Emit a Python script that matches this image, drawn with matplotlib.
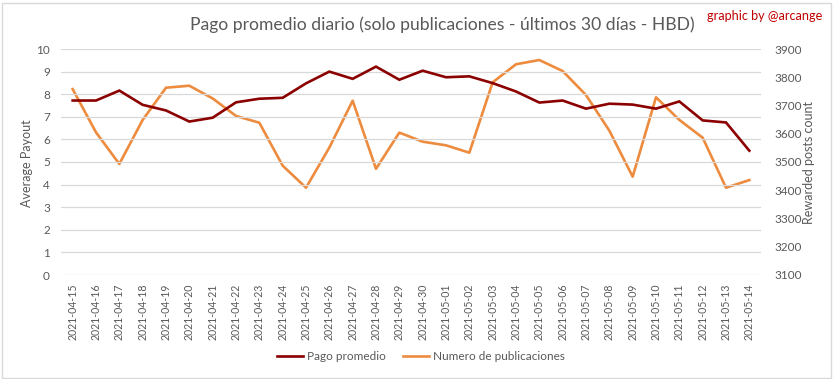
import matplotlib
matplotlib.use("Agg")
import matplotlib.pyplot as plt
from matplotlib.patches import Rectangle

dates = ["2021-04-15", "2021-04-16", "2021-04-17", "2021-04-18", "2021-04-19", "2021-04-20",
         "2021-04-21", "2021-04-22", "2021-04-23", "2021-04-24", "2021-04-25", "2021-04-26",
         "2021-04-27", "2021-04-28", "2021-04-29", "2021-04-30", "2021-05-01", "2021-05-02",
         "2021-05-03", "2021-05-04", "2021-05-05", "2021-05-06", "2021-05-07", "2021-05-08",
         "2021-05-09", "2021-05-10", "2021-05-11", "2021-05-12", "2021-05-13", "2021-05-14"]
pago_promedio = [7.72, 7.72, 8.16, 7.53, 7.28, 6.79, 6.96, 7.64, 7.80, 7.84, 8.48, 9.00,
                 8.68, 9.22, 8.64, 9.04, 8.75, 8.79, 8.49, 8.12, 7.63, 7.72, 7.36, 7.58,
                 7.54, 7.36, 7.68, 6.84, 6.75, 5.50]
num_publicaciones = [3758, 3605, 3493, 3649, 3763, 3770, 3725, 3663, 3639, 3487, 3409, 3551,
                     3717, 3476, 3604, 3572, 3559, 3533, 3782, 3846, 3861, 3822, 3737, 3611,
                     3448, 3729, 3649, 3586, 3409, 3436]
left_ticks = list(range(0, 11))
right_ticks = list(range(3100, 4000, 100))

W, H = 833, 379
plt.rcParams['font.family'] = ['Lato', 'DejaVu Sans']
fig = plt.figure(figsize=(W / 100, H / 100), dpi=100)
ax = fig.add_axes([61 / W, 1 - 275 / H, (761 - 61) / W, (275 - 49) / H])
ax2 = ax.twinx()

grey = "#595959"
red = "#8B0000"
orange = "#ED8B3E"

x = list(range(len(dates)))
ax.set_zorder(ax2.get_zorder() + 1)
ax.patch.set_visible(False)
l1, = ax.plot(x, pago_promedio, color=red, lw=1.9, label="Pago promedio", solid_joinstyle="miter")
l2, = ax2.plot(x, num_publicaciones, color=orange, lw=1.9, label="Numero de publicaciones")

ax.set_xlim(-0.5, len(dates) - 0.5)
ax.set_ylim(0, 10)
ax2.set_ylim(3100, 3900)
ax.set_yticks(left_ticks)
ax2.set_yticks(right_ticks)
ax.set_xticks(x)
ax.set_xticklabels(dates, rotation=90, fontsize=7.6, color=grey)
ax.yaxis.grid(True, color="#d9d9d9", lw=0.9)
ax.set_axisbelow(True)
for a in (ax, ax2):
    for s in a.spines.values():
        s.set_visible(False)
    a.tick_params(length=0, labelsize=8.5, labelcolor=grey)
ax.tick_params(axis='y', pad=8)
ax.tick_params(axis='x', pad=6, labelsize=7.6)
ax2.tick_params(axis='y', pad=10)

fig.text(27 / W, 1 - 163 / H, "Average Payout", rotation=90, ha="center", va="center",
         color=grey, fontsize=9)
fig.text(809 / W, 1 - 162 / H, "Rewarded posts count", rotation=90, ha="center", va="center",
         color=grey, fontsize=9)

fig.text(442 / W, 1 - 25 / H, "Pago promedio diario (solo publicaciones - últimos 30 días - HBD)",
         ha="center", va="center", fontsize=12.6, color=grey)
fig.text(707 / W, 1 - 16 / H, "graphic by @arcange", ha="left", va="center",
         fontsize=9.1, color="#C00000")

fig.legend(handles=[l1, l2], loc="center", bbox_to_anchor=(421 / W, 1 - 357 / H),
           ncol=2, frameon=False, fontsize=8.5, labelcolor=grey, handlelength=2.2,
           handletextpad=0.3, columnspacing=1.5)

fig.patches.append(Rectangle((1.5 / W, 1.5 / H), (W - 4) / W, (H - 4) / H,
                             transform=fig.transFigure, fill=False,
                             edgecolor="#d9d9d9", lw=1))
fig.savefig("out.png", dpi=100)
